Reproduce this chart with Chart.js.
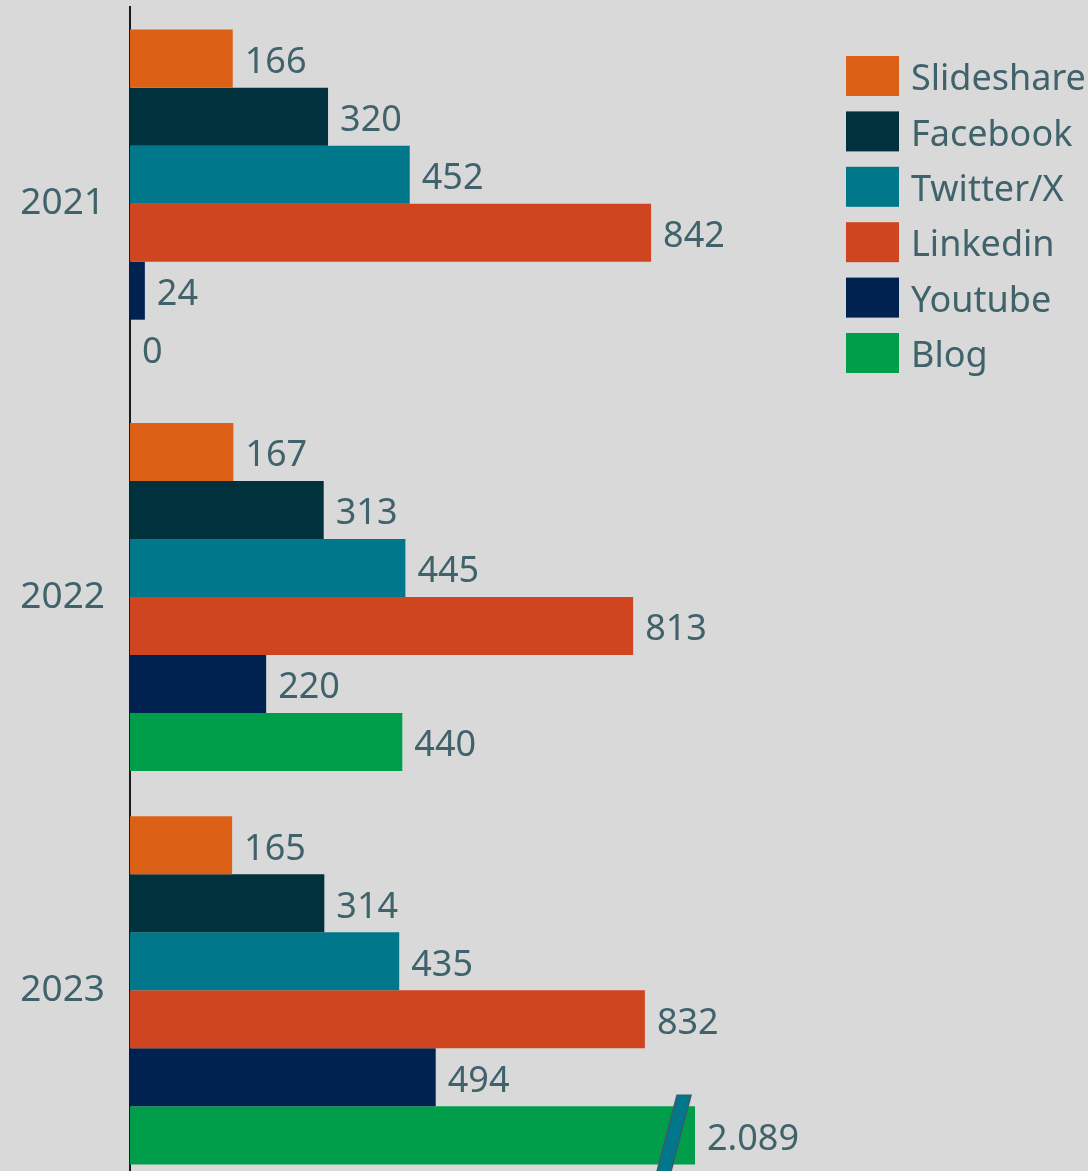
<!DOCTYPE html>
<html>
<head>
<meta charset="utf-8">
<script src="https://cdn.jsdelivr.net/npm/chart.js@4.4.1/dist/chart.umd.min.js"></script>
<style>
  html, body { margin: 0; padding: 0; background: #d9d9d9; overflow: hidden; }
  #wrap { position: relative; width: 1088px; height: 1187px; }
</style>
</head>
<body>
<div id="wrap"><canvas id="chart"></canvas></div>
<script>
// data
const years = ['2021', '2022', '2023'];
const channels = ['Slideshare', 'Facebook', 'Twitter/X', 'Linkedin', 'Youtube', 'Blog'];
const channelColors = ['#dd6017', '#01313c', '#00778a', '#cf4520', '#002251', '#009d4b'];
const slideshare = [166, 167, 165];
const facebook = [320, 313, 314];
const twitter = [452, 445, 435];
const linkedin = [842, 813, 832];
const youtube = [24, 220, 494];
const blog = [0, 440, 2089];
const seriesValues = [slideshare, facebook, twitter, linkedin, youtube, blog];
// bars longer than this are cut with a break mark
const breakAt = 913;

const textColor = '#3f626b';
const fontFamily = '"Noto Sans", "Open Sans", sans-serif';

const datasets = channels.map((name, i) => ({
    label: name,
    data: seriesValues[i].map(v => Math.min(v, breakAt)),
    realValues: seriesValues[i],
    backgroundColor: channelColors[i],
    borderWidth: 0,
    barPercentage: 1,
    categoryPercentage: 0.885
}));

// value labels + axis break + legend
const extras = {
    id: 'extras',
    afterDatasetsDraw(chart) {
        const ctx = chart.ctx;
        ctx.save();
        ctx.font = '36px ' + fontFamily;
        ctx.fillStyle = textColor;
        ctx.textBaseline = 'middle';
        ctx.textAlign = 'left';
        chart.data.datasets.forEach((ds, i) => {
            const meta = chart.getDatasetMeta(i);
            meta.data.forEach((bar, j) => {
                const real = ds.realValues[j];
                const txt = real.toLocaleString('de-DE');
                ctx.fillText(txt, bar.x + 12, bar.y + 4);
                if (real > breakAt) {
                    // slanted break mark
                    const top = bar.y - bar.height / 2 - 11;
                    const bottom = bar.y + bar.height / 2 + 30;
                    const xTop = bar.x - 11;
                    const slope = 20 / 76;
                    const xBot = xTop - (bottom - top) * slope;
                    ctx.beginPath();
                    ctx.moveTo(xTop - 7, top);
                    ctx.lineTo(xTop + 7, top);
                    ctx.lineTo(xBot + 7, bottom);
                    ctx.lineTo(xBot - 7, bottom);
                    ctx.closePath();
                    ctx.fillStyle = '#00778a';
                    ctx.fill();
                    ctx.strokeStyle = '#3d5a6b';
                    ctx.lineWidth = 1.5;
                    ctx.stroke();
                    ctx.fillStyle = textColor;
                }
            });
        });

        // legend
        chart.data.datasets.forEach((ds, i) => {
            const y = 56 + i * 55.4;
            ctx.fillStyle = ds.backgroundColor;
            ctx.fillRect(846, y, 53, 40);
            ctx.fillStyle = textColor;
            ctx.fillText(ds.label, 911, y + 24);
        });
        ctx.restore();
    }
};

new Chart(document.getElementById('chart'), {
    type: 'bar',
    data: { labels: years, datasets: datasets },
    options: {
        indexAxis: 'y',
        responsive: true,
        maintainAspectRatio: false,
        animation: false,
        layout: { padding: { top: 7, right: 0, bottom: 0, left: 0 } },
        plugins: {
            legend: { display: false },
            tooltip: { enabled: false }
        },
        scales: {
            x: {
                display: false,
                min: 0,
                max: 1548
            },
            y: {
                afterFit: (scale) => {
                    scale.width = 130;
                    scale.paddingTop = 0;
                    scale.paddingBottom = 0;
                },
                grid: { display: false, drawTicks: false },
                border: { display: true, color: '#1a1a1a', width: 2 },
                ticks: {
                    color: textColor,
                    padding: 25,
                    font: { family: fontFamily, size: 37 }
                }
            }
        }
    },
    plugins: [extras]
});
</script>
</body>
</html>
